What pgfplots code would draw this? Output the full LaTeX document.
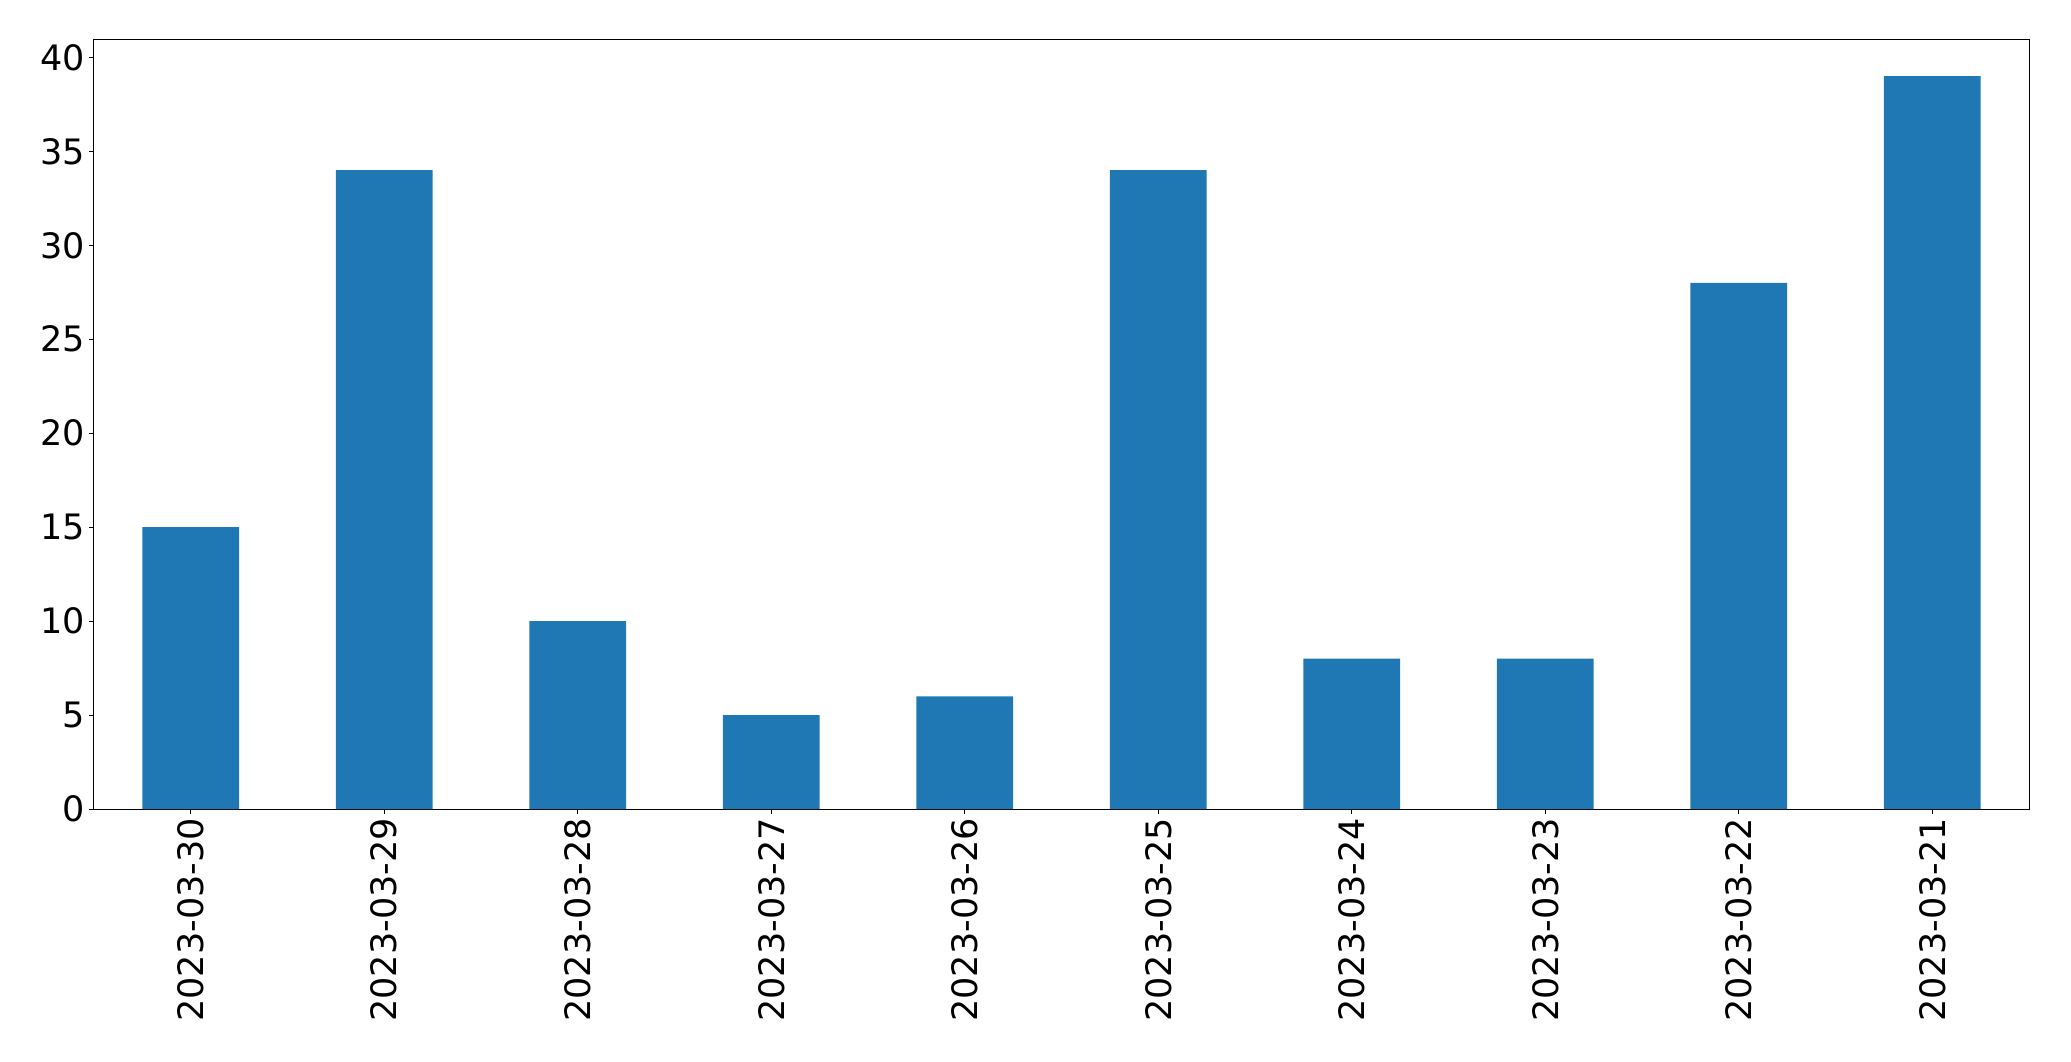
\documentclass[border=0pt]{standalone}
\usepackage{pgfplots}
\pgfplotsset{compat=1.18}
\usepackage{fontspec}
\setmainfont{DejaVu Sans}
\definecolor{mplblue}{HTML}{1F77B4}
\begin{document}
\begin{tikzpicture}
\begin{axis}[
  scale only axis,
  width=967.5pt, height=384.75pt,
  xmin=-0.5, xmax=9.5,
  ymin=0, ymax=40.95,
  xtick={0,1,2,3,4,5,6,7,8,9},
  xticklabels={2023-03-30,2023-03-29,2023-03-28,2023-03-27,2023-03-26,2023-03-25,2023-03-24,2023-03-23,2023-03-22,2023-03-21},
  ytick={0,5,10,15,20,25,30,35,40},
  /pgf/number format/assume math mode=true,
  tick label style={font=\fontsize{17.5}{20}\selectfont},
  xticklabel style={rotate=90, anchor=east, inner sep=2pt},
  yticklabel style={inner sep=2pt},
  tick align=outside,
  tick pos=left,
  major tick length=2.4pt,
  every tick/.style={black, line width=0.4pt},
  axis line style={black, line width=0.5pt},
  ybar, bar width=48.4pt,
  clip=false,
]
\addplot[fill=mplblue, draw=none, bar shift=0pt] coordinates {
  (0,15) (1,34) (2,10) (3,5) (4,6) (5,34) (6,8) (7,8) (8,28) (9,39)
};
\coordinate (sw) at (rel axis cs:0,0);
\coordinate (ne) at (rel axis cs:1,1);
\end{axis}
\path (sw) ++(-47pt,-126pt) coordinate (bbsw);
\path (ne) ++(21pt,19.75pt) coordinate (bbne);
\path (bbsw) rectangle (bbne);
\end{tikzpicture}
\end{document}
